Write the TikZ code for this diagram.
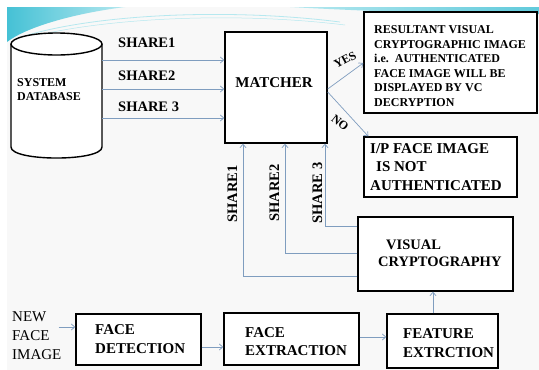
\documentclass[tikz,border=0pt]{standalone}
\usepackage{fontspec}
\setmainfont{Liberation Serif}
\usetikzlibrary{arrows.meta}
\definecolor{arrowc}{HTML}{7F9DBF}
\definecolor{bgc}{HTML}{F8F8F8}
\definecolor{tealA}{HTML}{45C1D5}
\definecolor{tealB}{HTML}{B5E8EF}
\begin{document}
\begin{tikzpicture}[x=1pt,y=-1pt,
  box/.style={draw=black, line width=1.4pt, fill=white, inner sep=0pt},
  txt/.style={inner sep=0pt, align=left, anchor=north west},
  arr/.style={draw=arrowc, line width=0.7pt, -{Straight Barb[length=3.5pt,width=6pt]}},
  f12/.style={font=\bfseries\fontsize{12}{14.5}\selectfont},
  f15/.style={font=\bfseries\fontsize{15}{18.5}\selectfont},
  lbl/.style={inner sep=0pt, font=\bfseries\fontsize{14.5}{14.5}\selectfont}]
\useasboundingbox (0,0) rectangle (539,370);
\fill[white] (0,0) rectangle (539,370);
\fill[bgc] (7,7) rectangle (539,370);
% decorative swoosh
\shade[left color=tealA, right color=tealB] (7,7) -- (125,7) .. controls (70,14) and (25,28) .. (7,42) -- cycle;
\shade[left color=tealB, right color=tealA!85] (290,7) .. controls (380,12) and (460,14) .. (539,14) -- (539,7) -- cycle;
\draw[tealB, line width=0.8pt] (28,35) .. controls (100,14) and (230,8) .. (340,22);
\draw[tealB, line width=0.5pt] (30,37) .. controls (110,17) and (240,12) .. (345,25);
% database cylinder
\draw[line width=1.4pt, fill=white] (11,44) -- (11,147) .. controls (11,161.7) and (102,161.7) .. (102,147) -- (102,44);
\draw[line width=1.4pt, fill=white] (56.5,44) ellipse [x radius=45.5pt, y radius=11pt];
\node[inner sep=0pt, minimum width=91pt, minimum height=114pt] (db) at (56.5,101) {};
\node[txt, f12] (dbtxt) at (17,78.3) {SYSTEM\\DATABASE};
% boxes
\node[box, minimum width=102pt, minimum height=111pt] (matcher) at (276,87.5) {};
\node[box, minimum width=173pt, minimum height=101pt] (result) at (450.5,62.5) {};
\node[box, minimum width=153pt, minimum height=60pt] (notauth) at (440.5,167) {};
\node[box, minimum width=155pt, minimum height=74pt] (vc) at (435.5,254) {};
\node[box, minimum width=125pt, minimum height=51pt] (detect) at (138.5,339.5) {};
\node[box, minimum width=135pt, minimum height=52pt] (extract) at (291.5,339) {};
\node[box, minimum width=111pt, minimum height=54pt] (feature) at (442.5,341) {};
% box texts
\node[inner sep=0pt, anchor=base, f15] (mtxt) at (274,87) {MATCHER};
\node[txt, f12] (rtxt) at (374,25.5) {RESULTANT VISUAL\\CRYPTOGRAPHIC IMAGE\\i.e.\ \ AUTHENTICATED\\FACE IMAGE WILL BE\\DISPLAYED BY VC\\DECRYPTION};
\node[txt, f15] (ntxt) at (370,143) {I/P FACE IMAGE\\\hspace{6pt}IS NOT\\AUTHENTICATED};
\node[txt, font=\bfseries\fontsize{14.5}{17}\selectfont] (vtxt) at (378,240) {\hspace{8pt}VISUAL\\CRYPTOGRAPHY};
\node[txt, font=\bfseries\fontsize{15}{19}\selectfont] (dtxt) at (95,324) {FACE\\DETECTION};
\node[txt, font=\bfseries\fontsize{15}{18}\selectfont] (etxt) at (245,327.3) {FACE\\EXTRACTION};
\node[txt, font=\bfseries\fontsize{15}{18.7}\selectfont] (ftxt) at (403,328.3) {FEATURE\\EXTRCTION};
\node[txt, font=\fontsize{15}{18.7}\selectfont] (newface) at (12,311.7) {NEW\\FACE\\IMAGE};
% share labels
\node[lbl, anchor=base west] (s1) at (118,47) {SHARE1};
\node[lbl, anchor=base west] (s2) at (118,80) {SHARE2};
\node[lbl, anchor=base west] (s3) at (118,111.7) {SHARE 3};
\node[lbl, rotate=90, anchor=base] (v1l) at (237,194) {SHARE1};
\node[lbl, rotate=90, anchor=base] (v2l) at (279,193) {SHARE2};
\node[lbl, rotate=90, anchor=base] (v3l) at (322,193) {SHARE 3};
\node[inner sep=0pt, rotate=28, font=\bfseries\fontsize{12}{12}\selectfont] (yes) at (345,60) {YES};
\node[inner sep=0pt, rotate=-38, font=\bfseries\fontsize{12}{12}\selectfont] (no) at (340,123) {NO};
% helper coordinates
\coordinate (y1) at (0,60);
\coordinate (y2) at (0,89);
\coordinate (y3) at (0,118);
\coordinate (ya) at (0,89);
\coordinate (yb) at (0,63);
\coordinate (yc) at (0,92);
\coordinate (w1) at (0,276);
\coordinate (w2) at (0,253);
\coordinate (w3) at (0,226);
\coordinate (m1) at (243,0);
\coordinate (m2) at (285,0);
\coordinate (m3) at (325,0);
\coordinate (b1) at (0,327);
\coordinate (b2) at (0,347);
\coordinate (b3) at (0,337);
\coordinate (c1) at (433,0);
% connectors
\draw[arr] (db.east |- y1) -- (matcher.west |- y1);
\draw[arr] (db.east |- y2) -- (matcher.west |- y2);
\draw[arr] (db.east |- y3) -- (matcher.west |- y3);
\draw[arr] (matcher.east |- ya) -- (result.west |- yb);
\draw[arr] (matcher.east |- yc) -- ([shift={(5pt,0pt)}]notauth.north west);
\draw[arr] (vc.west |- w1) -| (m1 |- matcher.south);
\draw[arr] (vc.west |- w2) -| (m2 |- matcher.south);
\draw[arr] (vc.west |- w3) -| (m3 |- matcher.south);
\draw[arr] ([xshift=-3pt]newface.east |- b1) -- (detect.west |- b1);
\draw[arr] (detect.east |- b2) -- (extract.west |- b2);
\draw[arr] (extract.east |- b3) -- (feature.west |- b3);
\draw[arr] (c1 |- feature.north) -- (c1 |- vc.south);
\end{tikzpicture}
\end{document}
